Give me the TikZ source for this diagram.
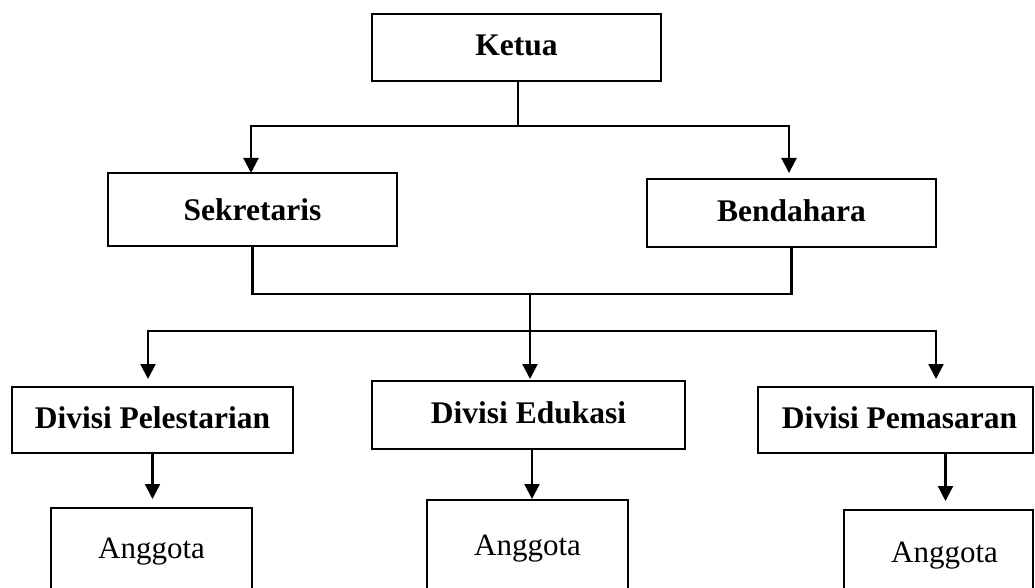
\documentclass[tikz,border=0pt]{standalone}
\usepackage{fontspec}
\setmainfont{Liberation Serif}
\usetikzlibrary{arrows.meta}
\begin{document}
\begin{tikzpicture}[x=1pt,y=-1pt,
  box/.style={draw,line width=2.2pt,rectangle,inner sep=0pt,
    text height=21pt,text depth=5pt,font=\fontsize{31.5}{36}\selectfont\bfseries},
  abox/.style={draw,line width=2.2pt,rectangle,inner sep=0pt,
    text height=21pt,text depth=7pt,font=\fontsize{31}{36}\selectfont},
  conn/.style={line width=2.2pt},
  arr/.style={line width=2.2pt,-{Triangle[width=15pt,length=15pt]}}]
\useasboundingbox (0,0) rectangle (1035,588);
\clip (0,0) rectangle (1035,588);
% boxes
\node[box,minimum width=289pt,minimum height=67pt] (ketua) at (516.5,47.5) {Ketua};
\node[box,text depth=0pt,minimum width=289pt,minimum height=73pt] (sek) at (252.5,209.5) {Sekretaris};
\node[box,minimum width=289pt,minimum height=68pt] (ben) at (791.5,213) {Bendahara};
\node[box,minimum width=281pt,minimum height=66pt] (pel) at (152.5,420) {Divisi Pelestarian};
\node[box,minimum width=313pt,minimum height=68pt] (edu) at (528.5,415) {Divisi Edukasi};
\node[box,minimum width=275pt,minimum height=66pt] (pem) at (895.5,420) {\hspace*{8pt}Divisi Pemasaran};
\node[abox,minimum width=201pt,minimum height=87.4pt] (a1) at (151.5,551.7) {Anggota};
\node[abox,minimum width=201pt,minimum height=96.6pt] (a2) at (527.5,548.3) {Anggota};
\node[abox,minimum width=189pt,minimum height=91.4pt] (a3) at (938.5,555.7) {\hspace*{12pt}Anggota};
% junctions
\coordinate (j1) at (518,126);
\coordinate (sektop) at (251,173);
\coordinate (bentop) at (789,173);
\coordinate (j2) at (530,294);
\coordinate (j3) at (530,331);
\coordinate (peltop) at (148,379);
\coordinate (edutop) at (530,379);
\coordinate (pemtop) at (936,379);
\coordinate (a1t) at (152.5,499);
\coordinate (a2t) at (532,499);
\coordinate (p3s) at (945.5,453);
\coordinate (a3t) at (945.5,501);
% connectors
\draw[conn] (ketua.south -| j1) -- (j1);
\draw[arr] (j1) -| (sektop);
\draw[arr] (j1) -| (bentop);
\draw[conn] (sek.south) |- (j2);
\draw[conn] (ben.south) |- (j2);
\draw[arr] (j2) -- (edutop);
\draw[arr] (j3) -| (peltop);
\draw[arr] (j3) -| (pemtop);
\draw[arr] (pel.south -| a1t) -- (a1t);
\draw[arr] (edu.south -| a2t) -- (a2t);
\draw[arr] (p3s) -- (a3t);
\end{tikzpicture}
\end{document}
